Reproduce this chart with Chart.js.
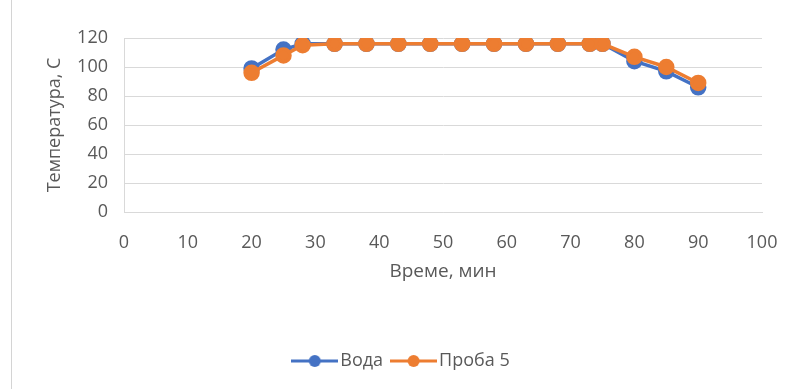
<!DOCTYPE html>
<html>
<head>
<meta charset="utf-8">
<script src="https://cdn.jsdelivr.net/npm/chart.js@4.4.0/dist/chart.umd.min.js"></script>
<style>
  html, body { margin: 0; padding: 0; background: #fff; }
  #wrap { position: relative; width: 792px; height: 389px; }
  #edge { position: absolute; left: 11px; top: 0; width: 1px; height: 389px; background: #d4d4d4; }
</style>
</head>
<body>
<div id="wrap">
  <canvas id="chart" width="792" height="389"></canvas>
  <div id="edge"></div>
</div>
<script>
// время, мин
const vreme = [20, 25, 28, 33, 38, 43, 48, 53, 58, 63, 68, 73, 75, 80, 85, 90];
// температура
const voda = [99, 112, 116, 116, 116, 116, 116, 116, 116, 116, 116, 116, 116, 104, 97, 86];
const proba5 = [96, 108, 115, 116, 116, 116, 116, 116, 116, 116, 116, 116, 116, 107, 100, 89];
const xTicks = [0, 10, 20, 30, 40, 50, 60, 70, 80, 90, 100];
const yTicks = [0, 20, 40, 60, 80, 100, 120];

const plava = '#4472C4';
const narandzasta = '#ED7D31';
const siva = '#595959';
const fontFam = "'Open Sans', 'Noto Sans', sans-serif";

function tocke(ys) {
    return vreme.map((x, i) => ({ x: x, y: ys[i] }));
}

// mali znak za legendu: linija sa kruzicem
function znak(boja) {
    const c = document.createElement('canvas');
    c.width = 47;
    c.height = 14;
    const g = c.getContext('2d');
    g.strokeStyle = boja;
    g.lineWidth = 3;
    g.beginPath();
    g.moveTo(0, 7);
    g.lineTo(47, 7);
    g.stroke();
    g.fillStyle = boja;
    g.beginPath();
    g.arc(23.5, 7, 6, 0, Math.PI * 2);
    g.fill();
    return c;
}

// pomeri legendu malo udesno, kao u originalu
const pomakLegende = {
    id: 'pomakLegende',
    afterLayout(chart) {
        chart.legend.left += 23;
        chart.legend.right += 23;
    }
};

const ctx = document.getElementById('chart').getContext('2d');

new Chart(ctx, {
    type: 'scatter',
    data: {
        datasets: [{
            label: 'Вода',
            data: tocke(voda),
            showLine: true,
            borderColor: plava,
            backgroundColor: plava,
            borderWidth: 3.5,
            pointRadius: 6.5,
            pointHoverRadius: 6.5,
            order: 2
        }, {
            label: 'Проба 5',
            data: tocke(proba5),
            showLine: true,
            borderColor: narandzasta,
            backgroundColor: narandzasta,
            borderWidth: 3.5,
            pointRadius: 6.5,
            pointHoverRadius: 6.5,
            order: 1
        }]
    },
    plugins: [pomakLegende],
    options: {
        responsive: false,
        animation: false,
        layout: { padding: { top: 38, right: 30, bottom: 9, left: 0 } },
        scales: {
            x: {
                type: 'linear',
                min: 0,
                max: 100,
                afterBuildTicks: s => { s.ticks = xTicks.map(v => ({ value: v })); },
                afterFit: s => { s.height = 126; s.paddingLeft = 0; s.paddingRight = 0; },
                grid: { display: false },
                border: { display: true, color: '#d9d9d9', width: 1 },
                ticks: { color: siva, padding: 12, font: { family: fontFam, size: 18 } },
                title: {
                    display: true,
                    text: 'Време, мин',
                    color: siva,
                    padding: { top: 0, bottom: 55 },
                    font: { family: fontFam, size: 19 }
                }
            },
            y: {
                type: 'linear',
                min: 0,
                max: 120,
                afterBuildTicks: s => { s.ticks = yTicks.map(v => ({ value: v })); },
                afterFit: s => { s.width = 124; s.paddingTop = 0; s.paddingBottom = 0; },
                grid: { color: '#d9d9d9', drawTicks: false },
                border: { display: true, color: '#d9d9d9', width: 1 },
                ticks: { color: siva, padding: 16, font: { family: fontFam, size: 18 } },
                title: {
                    display: true,
                    text: 'Температура, С',
                    color: siva,
                    padding: { top: 44, bottom: 0 },
                    font: { family: fontFam, size: 18 }
                }
            }
        },
        plugins: {
            legend: {
                position: 'bottom',
                labels: {
                    usePointStyle: true,
                    pointStyleWidth: 33,
                    color: siva,
                    padding: 14,
                    font: { family: fontFam, size: 18 },
                    generateLabels: chart => chart.data.datasets.map((ds, i) => ({
                        text: ds.label,
                        datasetIndex: i,
                        pointStyle: znak(ds.borderColor),
                        fillStyle: ds.borderColor,
                        strokeStyle: ds.borderColor,
                        fontColor: siva,
                        lineWidth: 0,
                        hidden: false
                    }))
                }
            },
            tooltip: { enabled: false }
        }
    }
});
</script>
</body>
</html>
